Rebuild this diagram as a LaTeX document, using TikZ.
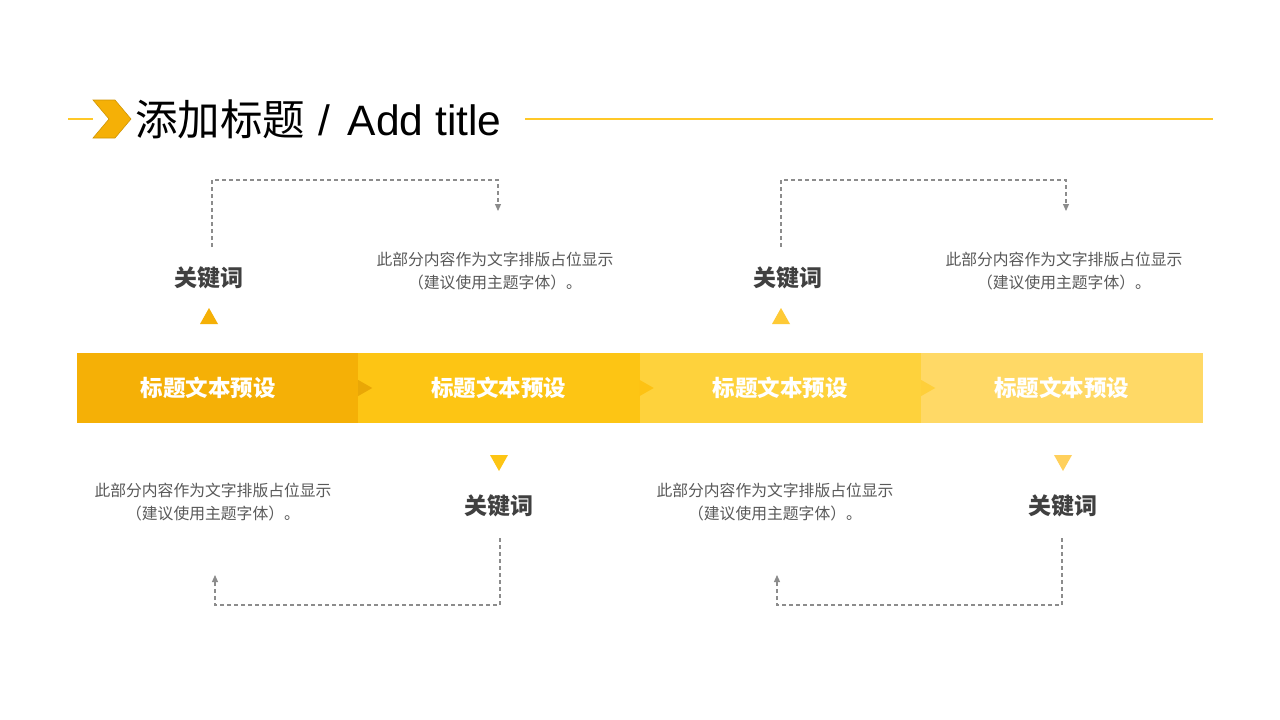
\documentclass[tikz,border=0pt]{standalone}
\usepackage{fontspec}
\setmainfont{Liberation Sans}
\newfontfamily\cjk{Noto Sans CJK SC}
\usetikzlibrary{arrows.meta}
\definecolor{cA}{HTML}{F5B006}
\definecolor{cB}{HTML}{FDC514}
\definecolor{cC}{HTML}{FED23C}
\definecolor{cD}{HTML}{FFD966}
\definecolor{kw}{HTML}{404040}
\definecolor{desc}{HTML}{595959}
\definecolor{dashc}{HTML}{8C8C8C}
\definecolor{titleyellow}{RGB}{255,200,40}
\tikzset{
  box/.style={minimum width=281.5pt, minimum height=70pt, inner sep=0pt, text=white,
    font=\cjk\bfseries\fontsize{22.5}{26}\selectfont},
  keyword/.style={inner sep=0pt, text=kw, font=\cjk\bfseries\fontsize{23}{26}\selectfont},
  description/.style={inner sep=0pt, align=center, text=desc, font=\cjk\fontsize{15.8}{23}\selectfont},
  conn/.style={draw=dashc, line width=1.1pt, dash pattern=on 4pt off 3pt,
    -{Triangle[width=6pt,length=7pt]}},
  titleline/.style={draw=titleyellow, line width=1.1pt},
}
\begin{document}
\begin{tikzpicture}[x=1pt,y=-1pt]
\useasboundingbox[fill=white] (0,0) rectangle (1280,720);
% title
\coordinate (l1a) at (68,119);
\coordinate (l1b) at (93,119);
\coordinate (l2a) at (525,119);
\coordinate (l2b) at (1213,119);
\draw[titleline] (l1a) -- (l1b);
\draw[titleline] (l2a) -- (l2b);
\fill[cA, draw=cA!85!black, line width=0.6pt] (93,100) -- (115,100) -- (131,119) -- (115,138) -- (93,138) -- (109,119) -- cycle;
\node[anchor=base west, inner sep=0pt, font=\fontsize{42.5}{46}\selectfont] (title) at (135,135) {{\cjk 添加标题}\hspace{13pt}/\hspace{18pt}Add title};
% boxes
\node[box, fill=cA] (b1) at (217.25,388) {};
\node[box, fill=cB] (b2) at (498.75,388) {标题文本预设};
\node[box, fill=cC] (b3) at (780.25,388) {标题文本预设};
\node[box, fill=cD] (b4) at (1061.75,388) {标题文本预设};
\node[box, minimum width=0pt] (b1t) at (208,388) {标题文本预设};
\fill[cA!95!black] (b1.east) ++(0,-8) -- ++(14,8) -- ++(-14,8) -- cycle;
\fill[cB!96!orange] (b2.east) ++(0,-8) -- ++(14,8) -- ++(-14,8) -- cycle;
\fill[cC!96!orange] (b3.east) ++(0,-8) -- ++(14,8) -- ++(-14,8) -- cycle;
% triangles
\fill[cA] (200,324) -- (218,324) -- (209,308) -- cycle;
\fill[cB] (490,455) -- (508,455) -- (499,471) -- cycle;
\fill[cC!90!orange] (772,324) -- (790,324) -- (781,308) -- cycle;
\fill[cD!90!orange] (1054,455) -- (1072,455) -- (1063,471) -- cycle;
% keywords
\node[keyword] (k1) at (209,278) {关键词};
\node[keyword] (k2) at (499,506) {关键词};
\node[keyword] (k3) at (788,278) {关键词};
\node[keyword] (k4) at (1063,506) {关键词};
% descriptions
\node[description] (d1) at (495,271.5) {此部分内容作为文字排版占位显示\\（建议使用主题字体）。};
\node[description] (d2) at (213,502.5) {此部分内容作为文字排版占位显示\\（建议使用主题字体）。};
\node[description] (d3) at (1064,271.5) {此部分内容作为文字排版占位显示\\（建议使用主题字体）。};
\node[description] (d4) at (775,502.5) {此部分内容作为文字排版占位显示\\（建议使用主题字体）。};
% connectors
\coordinate (s1) at (212,247); \coordinate (e1) at (498,211);
\coordinate (s2) at (500,538); \coordinate (e2) at (215,575);
\coordinate (s3) at (781,247); \coordinate (e3) at (1066,211);
\coordinate (s4) at (1062,538); \coordinate (e4) at (777,575);
\draw[conn] (s1) -- ++(0,-67) -| (e1);
\draw[conn] (s2) -- ++(0,67) -| (e2);
\draw[conn] (s3) -- ++(0,-67) -| (e3);
\draw[conn] (s4) -- ++(0,67) -| (e4);
\end{tikzpicture}
\end{document}
